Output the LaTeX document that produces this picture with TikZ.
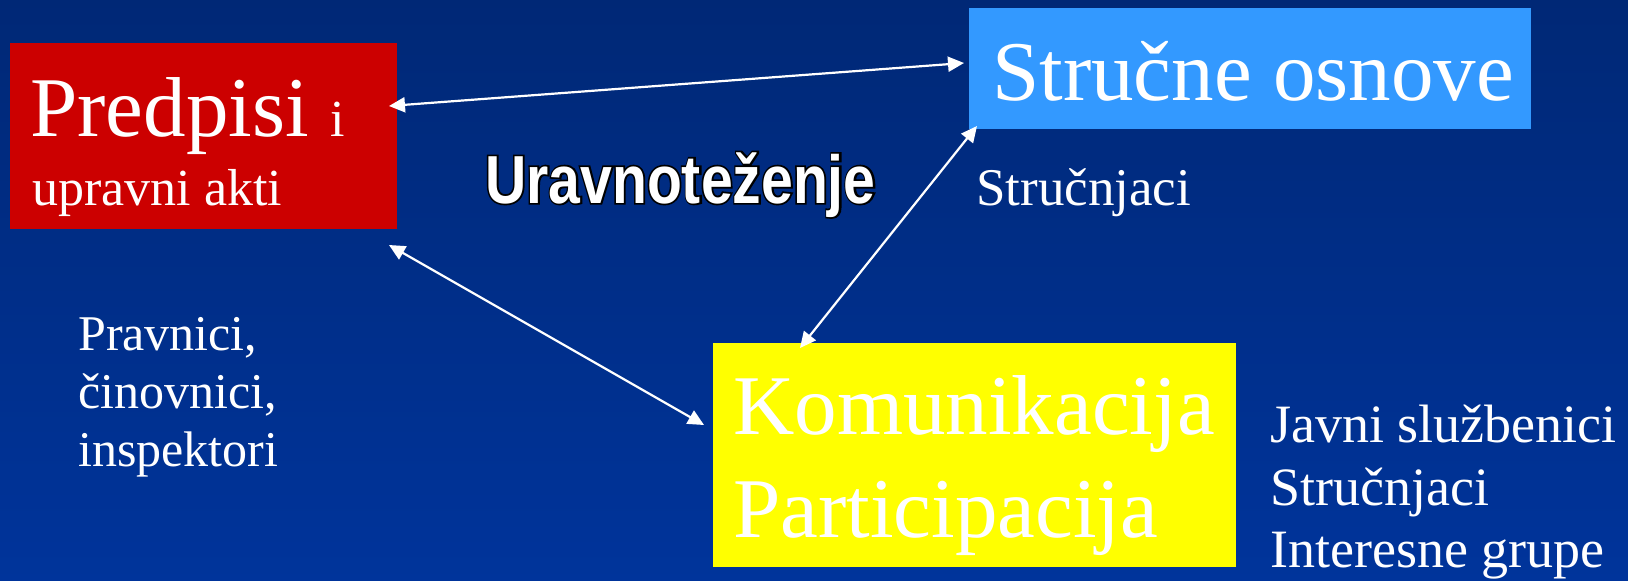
\documentclass[tikz,border=0pt]{standalone}
\usepackage{fontspec}
\setmainfont{Liberation Serif}
\newfontfamily\boldsans{Liberation Sans Bold}[FakeStretch=0.84]
\newfontfamily\boldsansoutline{Liberation Sans Bold}[FakeStretch=0.84, FakeBold=5]
\usetikzlibrary{arrows.meta}
\definecolor{bgtop}{RGB}{0,40,118}
\definecolor{bgbot}{RGB}{0,52,155}
\definecolor{boxred}{RGB}{204,0,0}
\definecolor{boxblue}{RGB}{51,153,255}
\definecolor{boxyellow}{RGB}{255,255,0}
\tikzset{
  box/.style={draw=none, inner sep=0pt, rectangle},
  txt/.style={anchor=base west, inner sep=0pt, text=white},
  arr/.style={draw=white, line width=2.2pt, {Triangle[length=16pt,width=15pt]}-{Triangle[length=16pt,width=15pt]}}
}
\newcommand{\fs}[1]{\fontsize{#1}{#1}\selectfont}
\begin{document}
\begin{tikzpicture}[x=1pt,y=-1pt]
\shade[top color=bgtop, bottom color=bgbot] (0,0) rectangle (1628,581);
\useasboundingbox (0,0) rectangle (1628,581);
% boxes
\node[box, fill=boxred, minimum width=387pt, minimum height=186pt] (pred) at (203.5,136) {};
\node[box, fill=boxblue, minimum width=562pt, minimum height=121pt] (stru) at (1250,68.5) {};
\node[box, fill=boxyellow, minimum width=523pt, minimum height=224pt] (komu) at (974.5,454.5) {};
% box texts
\node[txt] (t1) at (30,136) {\fs{85}Predpisi \fs{52}i};
\node[txt] (t2) at (32,205) {\fs{52}upravni akti};
\node[txt] (t3) at (992,100) {\fs{85}Stručne osnove};
\node[txt] (t4) at (733,434) {\fs{85}Komunikacija};
\node[txt] (t5) at (733,537) {\fs{85}Participacija};
% side texts
\node[txt] (s1) at (976,205) {\fs{53}Stručnjaci};
\node[txt] (l1) at (78,350) {\fs{50}Pravnici,};
\node[txt] (l2) at (78,408) {\fs{50}činovnici,};
\node[txt] (l3) at (78,466) {\fs{50}inspektori};
\node[txt] (r1) at (1270,442) {\fs{54}Javni službenici};
\node[txt] (r2) at (1270,505) {\fs{54}Stručnjaci};
\node[txt] (r3) at (1270,567) {\fs{54}Interesne grupe};
\node[anchor=base west, inner sep=0pt, text=black] (urb) at (485,203) {\boldsansoutline\fs{68}Uravnoteženje};
\node[anchor=base west, inner sep=0pt, text=white] (ur) at (485,203) {\boldsans\fs{68}Uravnoteženje};
% arrow ends
\coordinate (a1) at (389,106);
\coordinate (b1) at (964,63);
\coordinate (a2) at (389,245);
\coordinate (b2) at (704,425);
\coordinate (a3) at (977,126);
\coordinate (b3) at (800,348);
\draw[arr] (a1) -- (b1);
\draw[arr] (a2) -- (b2);
\draw[arr] (a3) -- (b3);
\end{tikzpicture}
\end{document}
